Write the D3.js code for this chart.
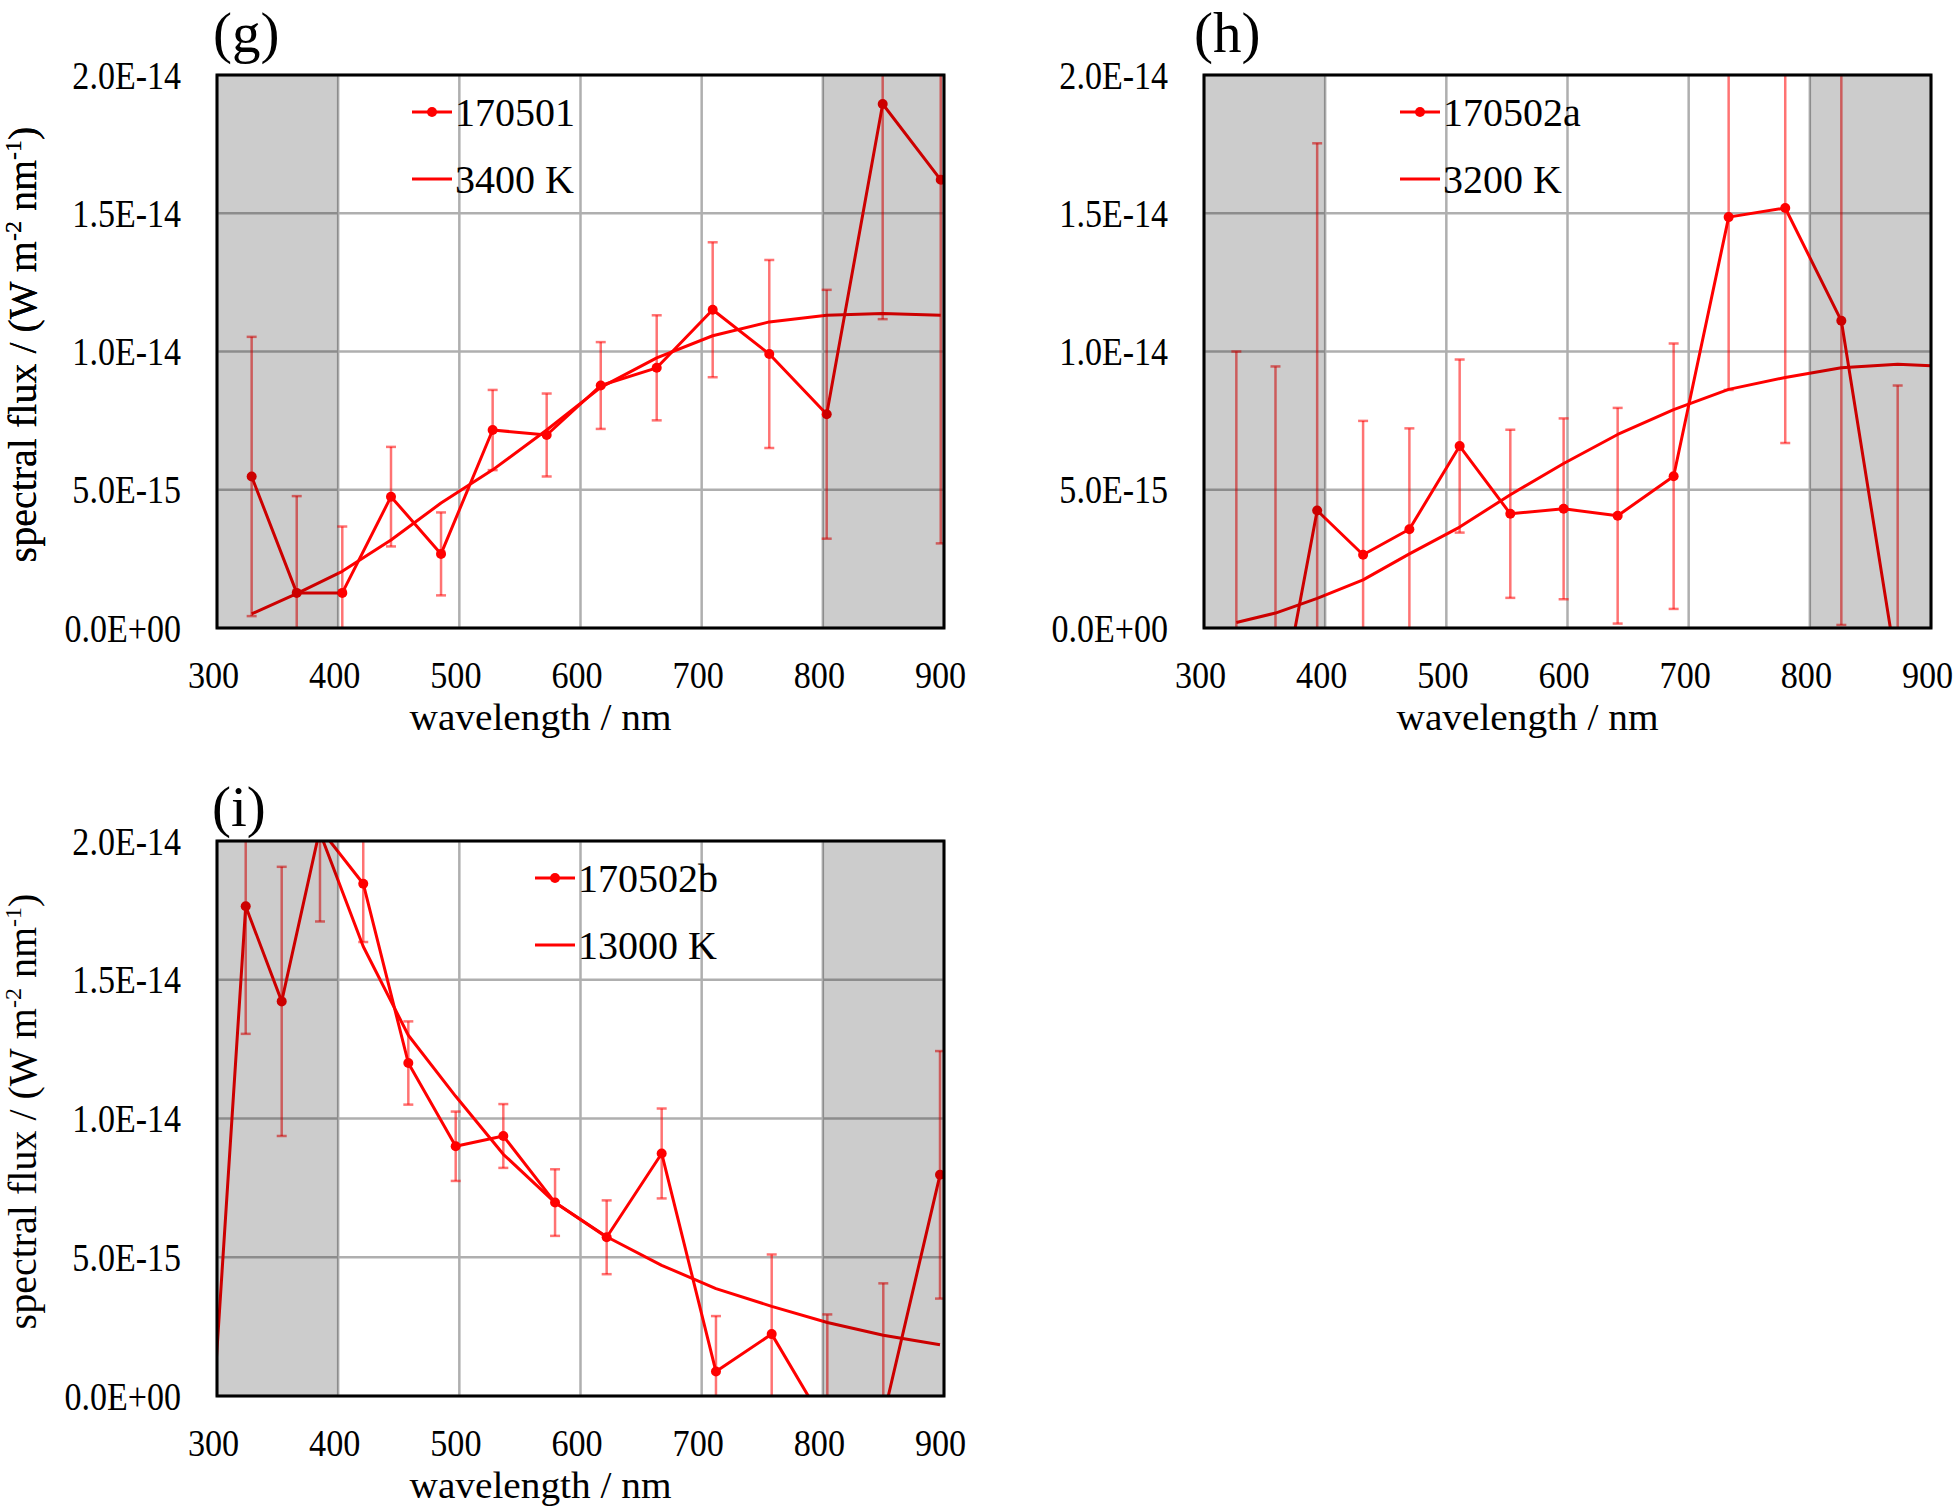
<!DOCTYPE html>
<html><head><meta charset="utf-8">
<script src="https://cdn.jsdelivr.net/npm/d3@7"></script>
<style>
body{margin:0;background:#fff;}
svg{display:block;}
text{font-family:"Liberation Serif","Times New Roman",serif;fill:#000;}
</style>
</head><body>
<svg id="chart" width="1960" height="1509"></svg>
<script>
// ---------- shared axis data ----------
const xTickValues = [300, 400, 500, 600, 700, 800, 900];
const yTickValues = [0, 5, 10, 15, 20];            // units of 1E-15 W m-2 nm-1
const yTickLabels = ["0.0E+00", "5.0E-15", "1.0E-14", "1.5E-14", "2.0E-14"];
const shadedBands = [[300, 400], [800, 900]];

// ---------- panel (g) ----------
const gWavelength = [328.6, 365.8, 403.4, 443.6, 484.9, 527.5, 572.1, 616.7, 662.9, 709.1, 755.8, 803.2, 849.4, 897.3];
const gFlux  = [5.48, 1.27, 1.27, 4.75, 2.68, 7.16, 6.98, 8.77, 9.41, 11.51, 9.91, 7.73, 18.95, 16.21];
const gError = [5.05, 3.5, 2.4, 1.8, 1.5, 1.45, 1.5, 1.57, 1.9, 2.44, 3.4, 4.5, 7.78, 13.15];
const gModelWavelength = [328.6, 365.8, 403.4, 443.6, 484.9, 527.5, 572.1, 616.7, 662.9, 709.1, 755.8, 803.2, 849.4, 897.3];
const gModel = [0.51, 1.24, 2.05, 3.18, 4.52, 5.72, 7.16, 8.7, 9.77, 10.57, 11.07, 11.31, 11.37, 11.31];

// ---------- panel (h) ----------
const hWavelength = [326.7, 359, 393.4, 431.3, 469.5, 511, 552.8, 596.8, 641.4, 687.6, 733, 779.7, 826, 872.5];
const hFlux  = [-3.5, -3.78, 4.25, 2.65, 3.57, 6.58, 4.13, 4.31, 4.06, 5.49, 14.86, 15.19, 11.11, -1.66];
const hError = [13.5, 13.24, 13.28, 4.84, 3.65, 3.13, 3.04, 3.27, 3.9, 4.8, 6.25, 8.5, 11.0, 10.43];
const hModelWavelength = [326.7, 359, 393.4, 431.3, 469.5, 511, 552.8, 596.8, 641.4, 687.6, 733, 779.7, 826, 872.5, 921];
const hModel = [0.2, 0.54, 1.07, 1.74, 2.68, 3.65, 4.82, 5.95, 7.0, 7.9, 8.63, 9.06, 9.41, 9.54, 9.45];

// ---------- panel (i) ----------
const iWavelength = [299, 323.7, 353.4, 385, 420.7, 457.9, 497, 536.3, 579, 621.6, 667, 711.8, 757.8, 803.7, 849.9, 896.7];
const iFlux  = [1.0, 17.65, 14.22, 20.45, 18.46, 12.0, 9.0, 9.37, 6.97, 5.72, 8.74, 0.88, 2.23, -1.16, -0.77, 7.97];
const iError = [0, 4.6, 4.85, 3.35, 2.1, 1.5, 1.25, 1.15, 1.2, 1.33, 1.62, 2.0, 2.87, 4.1, 4.83, 4.46];
const iModelWavelength = [299, 323.7, 353.4, 385, 420.7, 457.9, 497, 536.3, 579, 621.6, 667, 711.8, 757.8, 803.7, 849.9, 896.7];
const iModel = [42, 33, 26, 20.3, 16.2, 13.0, 10.8, 8.71, 6.97, 5.74, 4.71, 3.87, 3.23, 2.65, 2.19, 1.85];

const seriesNames = ["170501", "170502a", "170502b"];
const modelNames  = ["3400 K", "3200 K", "13000 K"];
const panelLabels = ["(g)", "(h)", "(i)"];

// ---------- layout ----------
const panels = [
  {key:"g", wl:gWavelength, flux:gFlux, err:gError, mwl:gModelWavelength, model:gModel, idx:0,
   left:217, top:75, width:727, height:553, labelDx:-4, labelY:52, legendDx:195},
  {key:"h", wl:hWavelength, flux:hFlux, err:hError, mwl:hModelWavelength, model:hModel, idx:1,
   left:1204, top:75, width:727, height:553, labelDx:-10, labelY:52, legendDx:196},
  {key:"i", wl:iWavelength, flux:iFlux, err:iError, mwl:iModelWavelength, model:iModel, idx:2,
   left:217, top:841, width:727, height:555, labelDx:-5, labelY:826, legendDx:318}
];

const RED = "#ff0000";
const ERR = "rgba(255,0,0,0.55)";
const svg = d3.select("#chart");
const defs = svg.append("defs");

panels.forEach(p => {
  const x = d3.scaleLinear().domain([300, 900]).range([0, p.width]);
  const y = d3.scaleLinear().domain([0, 20]).range([p.height, 0]);
  const g = svg.append("g").attr("transform", `translate(${p.left},${p.top})`);

  defs.append("clipPath").attr("id", "clip-" + p.key)
    .append("rect").attr("x", 0).attr("y", 0).attr("width", p.width).attr("height", p.height);

  g.append("rect").attr("width", p.width).attr("height", p.height).attr("fill", "#fff");

  // gridlines
  g.append("g").selectAll("line.v").data(xTickValues).join("line")
    .attr("x1", d => x(d)).attr("x2", d => x(d)).attr("y1", 0).attr("y2", p.height)
    .attr("stroke", "#afafaf").attr("stroke-width", 2.5);
  g.append("g").selectAll("line.h").data(yTickValues).join("line")
    .attr("x1", 0).attr("x2", p.width).attr("y1", d => y(d)).attr("y2", d => y(d))
    .attr("stroke", "#afafaf").attr("stroke-width", 2.5);

  const plot = g.append("g").attr("clip-path", `url(#clip-${p.key})`);
  const pts = p.wl.map((w, i) => ({w, f: p.flux[i], e: p.err[i]}));

  // error bars
  const eb = plot.append("g").attr("stroke", ERR).attr("stroke-width", 2.5);
  pts.filter(d => d.e > 0).forEach(d => {
    const cx = x(d.w), y1 = y(d.f - d.e), y2 = y(d.f + d.e);
    eb.append("line").attr("x1", cx).attr("x2", cx).attr("y1", y1).attr("y2", y2);
    eb.append("line").attr("x1", cx - 5).attr("x2", cx + 5).attr("y1", y1).attr("y2", y1);
    eb.append("line").attr("x1", cx - 5).attr("x2", cx + 5).attr("y1", y2).attr("y2", y2);
  });

  // model curve
  const mpts = p.mwl.map((w, i) => ({w, f: p.model[i]}));
  const line = d3.line().x(d => x(d.w)).y(d => y(d.f));
  plot.append("path").datum(mpts).attr("d", line)
    .attr("fill", "none").attr("stroke", RED).attr("stroke-width", 3).attr("stroke-linejoin", "round");

  // data line + markers
  plot.append("path").datum(pts).attr("d", line)
    .attr("fill", "none").attr("stroke", RED).attr("stroke-width", 3).attr("stroke-linejoin", "round");
  plot.append("g").selectAll("circle").data(pts.filter(d => d.w >= 300 && d.w <= 900)).join("circle")
    .attr("cx", d => x(d.w)).attr("cy", d => y(d.f)).attr("r", 5).attr("fill", RED);

  // shaded bands (translucent overlay)
  g.append("g").selectAll("rect").data(shadedBands).join("rect")
    .attr("x", d => x(d[0])).attr("width", d => x(d[1]) - x(d[0]))
    .attr("y", 0).attr("height", p.height).attr("fill", "#000").attr("fill-opacity", 0.2);

  // frame
  g.append("rect").attr("width", p.width).attr("height", p.height)
    .attr("fill", "none").attr("stroke", "#000").attr("stroke-width", 3);

  // axes
  const ya = g.append("g").call(d3.axisLeft(y).tickValues(yTickValues)
    .tickFormat((d, i) => yTickLabels[i]).tickSize(0));
  ya.select(".domain").remove();
  ya.selectAll("text").attr("font-family", null).attr("font-size", 41)
    .attr("x", -36 / 0.83).attr("dy", null).attr("y", 13)
    .attr("transform", "scale(0.83,1)").attr("text-anchor", "end");

  const xa = g.append("g").attr("transform", `translate(0,${p.height})`)
    .call(d3.axisBottom(x).tickValues(xTickValues).tickFormat(d3.format("d")).tickSize(0));
  xa.select(".domain").remove();
  xa.selectAll("text").attr("font-family", null).attr("font-size", 38)
    .attr("dy", null).attr("y", 60).attr("x", -4 / 0.9)
    .attr("transform", "scale(0.9,1)");

  // axis titles
  g.append("text").attr("x", p.width / 2 - 40).attr("y", p.height + 102)
    .attr("text-anchor", "middle").attr("font-size", 38)
    .attr("textLength", 262).attr("lengthAdjust", "spacingAndGlyphs")
    .text("wavelength / nm");

  const yt = g.append("text").attr("text-anchor", "middle").attr("font-size", 40)
    .attr("transform", `translate(${36 - p.left},${p.height / 2 - 7}) rotate(-90)`);
  yt.append("tspan").text("spectral flux / (W m");
  yt.append("tspan").attr("font-size", 24).attr("dy", -15).text("-2");
  yt.append("tspan").attr("dy", 15).text(" nm");
  yt.append("tspan").attr("font-size", 24).attr("dy", -15).text("-1");
  yt.append("tspan").attr("dy", 15).text(")");

  // panel label
  g.append("text").attr("x", p.labelDx).attr("y", p.labelY - p.top)
    .attr("font-size", 57).text(panelLabels[p.idx]);

  // legend
  const lg = g.append("g").attr("transform", `translate(${p.legendDx},0)`);
  [37, 104].forEach((ly, k) => {
    lg.append("line").attr("x1", 0).attr("x2", 40).attr("y1", ly).attr("y2", ly)
      .attr("stroke", RED).attr("stroke-width", 3);
    if (k === 0) lg.append("circle").attr("cx", 20).attr("cy", ly).attr("r", 5).attr("fill", RED);
    lg.append("text").attr("x", 43).attr("y", ly + 14).attr("font-size", 40)
      .text(k === 0 ? seriesNames[p.idx] : modelNames[p.idx]);
  });
});
</script>
</body></html>
